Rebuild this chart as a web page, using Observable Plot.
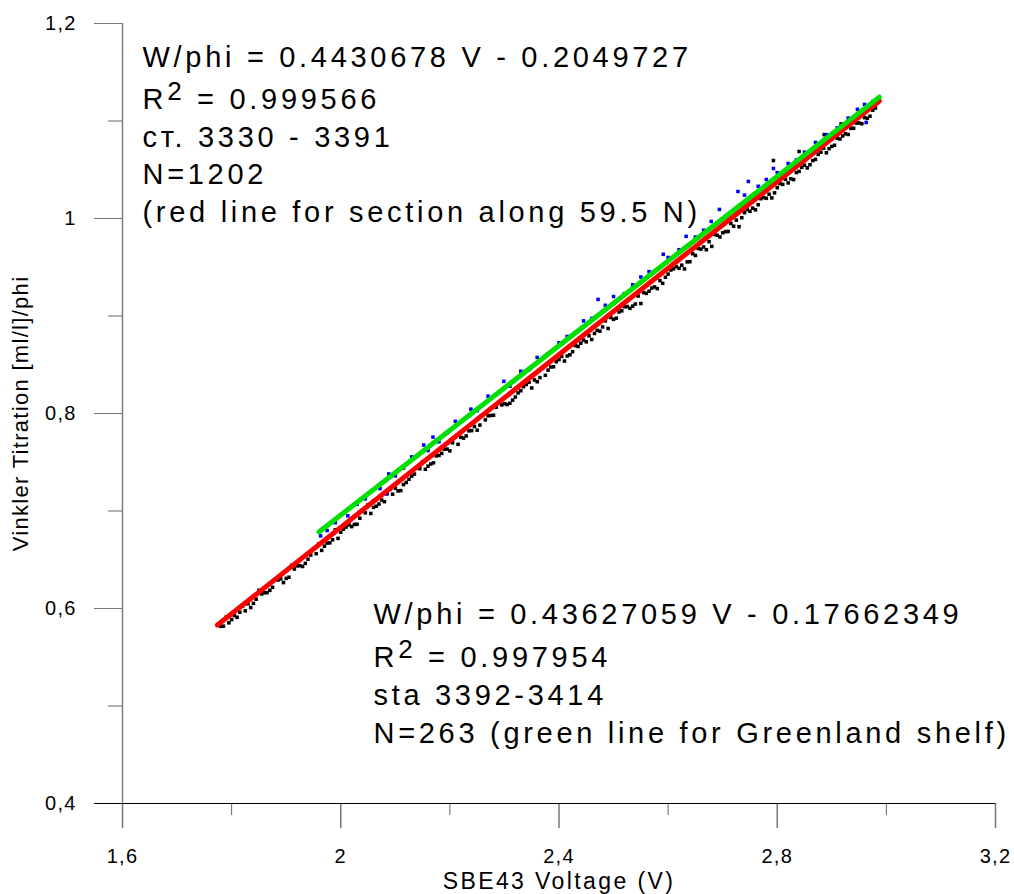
<!DOCTYPE html>
<html>
<head>
<meta charset="utf-8">
<script src="https://cdn.jsdelivr.net/npm/d3@7"></script>
<script src="https://cdn.jsdelivr.net/npm/@observablehq/plot@0.6"></script>
<style>
  body { margin: 0; background: #fff; }
</style>
</head>
<body>
<div id="chart"></div>
<script>
// ---- data ----
const blackV = [
  1.78,1.80,1.82,1.84,1.86,1.88,1.90,1.92,1.94,1.96,1.98,2.00,2.02,2.04,2.06,2.08,2.10,2.12,2.14,2.16,
  2.18,2.20,2.22,2.24,2.26,2.28,2.30,2.32,2.34,2.36,2.38,2.40,2.42,2.44,2.46,2.48,2.50,2.52,2.54,2.56,
  2.58,2.60,2.62,2.64,2.66,2.68,2.70,2.72,2.74,2.76,2.78,2.80,2.82,2.84,2.86,2.88,2.90,2.92,2.94,2.96,2.98,
  1.79,1.81,1.83,1.85,1.87,1.89,1.91,1.93,1.95,1.97,1.99,2.01,2.03,2.05,2.07,2.09,2.11,2.13,2.15,2.17,
  2.19,2.21,2.23,2.25,2.27,2.29,2.31,2.33,2.35,2.37,2.39,2.41,2.43,2.45,2.47,2.49,2.51,2.53,2.55,2.57,
  2.59,2.61,2.63,2.65,2.67,2.69,2.71,2.73,2.75,2.77,2.79,2.81,2.83,2.85,2.87,2.89,2.91,2.93,2.95,2.97,
  1.785,1.805,1.825,1.845,1.865,1.885,1.905,1.925,1.945,1.965,1.985,2.005,2.025,2.045,2.065,2.085,2.105,2.125,2.145,2.165,
  2.185,2.205,2.225,2.245,2.265,2.285,2.305,2.325,2.345,2.365,2.385,2.405,2.425,2.445,2.465,2.485,2.505,2.525,2.545,2.565,
  2.585,2.605,2.625,2.645,2.665,2.685,2.705,2.725,2.745,2.765,2.785,2.805,2.825,2.845,2.865,2.885,2.905,2.925,2.945,2.965,
  1.795,1.815,1.835,1.855,1.875,1.895,1.915,1.935,1.955,1.975,1.995,2.015,2.035,2.055,2.075,2.095,2.115,2.135,2.155,2.175,
  2.195,2.215,2.235,2.255,2.275,2.295,2.315,2.335,2.355,2.375,2.395,2.415,2.435,2.455,2.475,2.495,2.515,2.535,2.555,2.575,
  2.595,2.615,2.635,2.655,2.675,2.695,2.715,2.735,2.755,2.775,2.795,2.815,2.835,2.855,2.875,2.895,2.915,2.935,2.955,2.975,
  2.793,2.886,2.917,2.840
];
const blackW = [
  0.5817,0.5886,0.6024,0.6053,0.6161,0.6300,0.6309,0.6437,0.6506,0.6664,0.6673,0.6782,0.6840,0.7009,0.7037,0.7096,0.7234,0.7293,0.7442,0.7460,
  0.7569,0.7617,0.7756,0.7825,0.7983,0.7982,0.8100,0.8169,0.8298,0.8326,0.8445,0.8553,0.8602,0.8721,0.8759,0.8888,0.8966,0.9095,0.9123,0.9232,
  0.9281,0.9430,0.9489,0.9557,0.9686,0.9714,0.9853,0.9921,1.0060,1.0089,1.0207,1.0316,1.0365,1.0483,1.0552,1.0680,1.0739,1.0847,1.0926,1.1035,1.1133,
  0.5911,0.5910,0.6048,0.6187,0.6186,0.6304,0.6443,0.6431,0.6610,0.6639,0.6807,0.6836,0.6864,0.7063,0.7071,0.7220,0.7209,0.7357,0.7506,0.7494,
  0.7633,0.7762,0.7770,0.7829,0.7977,0.8106,0.8105,0.8233,0.8262,0.8470,0.8479,0.8538,0.8696,0.8735,0.8853,0.8872,0.9041,0.9079,0.9128,0.9286,
  0.9335,0.9484,0.9483,0.9621,0.9680,0.9828,0.9867,0.9916,1.0074,1.0203,1.0211,1.0350,1.0399,1.0547,1.0606,1.0674,1.0823,1.0862,1.0980,1.1049,
  0.5819,0.5928,0.5976,0.6095,0.6163,0.6292,0.6321,0.6439,0.6548,0.6596,0.6705,0.6814,0.6862,0.6981,0.7049,0.7178,0.7206,0.7325,0.7434,0.7482,
  0.7591,0.7700,0.7748,0.7867,0.7935,0.8064,0.8092,0.8211,0.8320,0.8368,0.8477,0.8586,0.8634,0.8753,0.8821,0.8950,0.8978,0.9097,0.9205,0.9254,
  0.9363,0.9472,0.9521,0.9639,0.9708,0.9836,0.9865,0.9983,1.0092,1.0141,1.0249,1.0358,1.0407,1.0525,1.0594,1.0722,1.0751,1.0869,1.0978,1.1027,
  0.5853,0.5962,0.6010,0.6149,0.6218,0.6266,0.6405,0.6463,0.6562,0.6671,0.6719,0.6858,0.6926,0.6975,0.7113,0.7172,0.7271,0.7379,0.7428,0.7566,
  0.7635,0.7684,0.7822,0.7881,0.7979,0.8088,0.8137,0.8275,0.8344,0.8392,0.8531,0.8590,0.8688,0.8797,0.8845,0.8984,0.9053,0.9101,0.9240,0.9298,
  0.9397,0.9506,0.9555,0.9693,0.9762,0.9810,0.9949,1.0008,1.0106,1.0215,1.0263,1.0402,1.0471,1.0519,1.0658,1.0716,1.0815,1.0924,1.0972,1.1111,
  1.0595,1.0860,1.0970,1.0687
];
const blueV = [
  1.963,1.975,1.990,2.013,2.030,2.045,2.060,2.072,2.083,2.088,2.100,2.115,2.130,2.152,2.160,2.169,2.180,2.195,2.210,2.2385,
  2.250,2.270,2.285,2.299,2.310,2.330,2.345,2.360,2.380,2.400,2.415,2.430,2.445,2.460,2.4716,2.485,2.500,2.520,2.535,2.550,
  2.565,2.591,2.600,2.620,2.633,2.650,2.665,2.679,2.694,2.705,2.728,2.740,2.747,2.765,2.780,2.793,2.800,2.820,2.835,2.850,
  2.870,2.890,2.910,2.930,2.947,2.960,2.963,2.975
];
const blueW = [
  0.6745,0.6800,0.6880,0.6950,0.7070,0.7125,0.7103,0.7230,0.7175,0.7380,0.7360,0.7440,0.7555,0.7677,0.7620,0.7758,0.7710,0.7800,0.7920,0.8045,
  0.8030,0.8178,0.8195,0.8330,0.8280,0.8434,0.8450,0.8575,0.8610,0.8725,0.8790,0.8830,0.8950,0.8975,0.9170,0.9110,0.9200,0.9230,0.9320,0.9400,
  0.9455,0.9633,0.9600,0.9680,0.9817,0.9810,0.9880,0.9970,1.0093,1.0020,1.0277,1.0240,1.0380,1.0330,1.0400,1.0513,1.0470,1.0564,1.0600,1.0680,
  1.0780,1.0860,1.0930,1.1030,1.1120,1.1170,1.0985,1.1200
];
// fitted lines (end points)
const redLineV = [1.774, 2.987];
const redLineW = [0.5830, 1.1205];
const greenLineV = [1.960, 2.987];
const greenLineW = [0.6785, 1.1245];

const xMajorTicks = [1.6, 2.0, 2.4, 2.8, 3.2];
const xMinorTicks = [1.8, 2.2, 2.6, 3.0];
const yMajorTicks = [0.4, 0.6, 0.8, 1.0, 1.2];
const yMinorTicks = [0.5, 0.7, 0.9, 1.1];

const xTitle = "SBE43 Voltage (V)";
const yTitle = "Vinkler Titration [ml/l]/phi";
const noteRed = [
  "W/phi = 0.4430678 V - 0.2049727",
  "R2 = 0.999566",
  "ст. 3330 - 3391",
  "N=1202",
  "(red line for section along 59.5 N)"
];
const noteGreen = [
  "W/phi = 0.43627059 V - 0.17662349",
  "R2 = 0.997954",
  "sta 3392-3414",
  "N=263 (green line for Greenland shelf)"
];

// ---- build ----
const blackPts = blackV.map((v, i) => ({v, w: blackW[i]}));
const bluePts = blueV.map((v, i) => ({v, w: blueW[i]}));
const redPts = redLineV.map((v, i) => ({v, w: redLineW[i]}));
const greenPts = greenLineV.map((v, i) => ({v, w: greenLineW[i]}));
const fmt = d => String(+d.toFixed(2)).replace(".", ",");

const M = {left: 122, right: 19, top: 23, bottom: 91};
const redBase = [66, 108, 146, 183, 221];
const greenBase = [623, 666, 704, 742];

const noteMarks = [
  ...noteRed.map((s, i) => Plot.text([s], {
    frameAnchor: "top-left", dx: 20, dy: redBase[i] - M.top,
    lineAnchor: "bottom", textAnchor: "start", fontSize: 29, fill: "#000"
  })),
  ...noteGreen.map((s, i) => Plot.text([s], {
    frameAnchor: "top-left", dx: 251, dy: greenBase[i] - M.top,
    lineAnchor: "bottom", textAnchor: "start", fontSize: 29, fill: "#000"
  }))
];

const chart = Plot.plot({
  width: 1014,
  height: 894,
  marginLeft: M.left,
  marginRight: M.right,
  marginTop: M.top,
  marginBottom: M.bottom,
  x: {domain: [1.6, 3.2]},
  y: {domain: [0.4, 1.2]},
  style: {fontFamily: "'Liberation Sans', Arial, sans-serif", fontSize: "20px", background: "#fff", color: "#000"},
  marks: [
    Plot.ruleX([1.6], {y1: 0.4, y2: 1.2, stroke: "#808080", strokeWidth: 1.5}),
    Plot.axisY(yMinorTicks, {tickSize: 14, fill: "none", stroke: "#666"}),
    Plot.axisY(yMajorTicks, {tickSize: 28, tickPadding: 18, tickFormat: fmt, stroke: "#777", fill: "#000", label: null}),
    Plot.axisX(xMinorTicks, {tickSize: 12, fill: "none", stroke: "#666"}),
    Plot.axisX(xMajorTicks, {tickSize: 25, tickPadding: 20, tickFormat: fmt, stroke: "#777", strokeWidth: 1.5, fill: "#000", label: null}),
    Plot.axisY([0.4], {tickSize: 28, fill: "none", stroke: "#000"}),
    Plot.ruleY([0.4], {x1: 1.6, x2: 3.2, stroke: "#000", strokeWidth: 1.2}),
    Plot.dot(blackPts, {x: "v", y: "w", symbol: "square", r: 2, fill: "#000", stroke: "none"}),
    Plot.dot(bluePts, {x: "v", y: "w", symbol: "square", r: 2, fill: "#0000ff", stroke: "none"}),
    Plot.line(redPts, {x: "v", y: "w", stroke: "#ff0000", strokeWidth: 5, strokeLinecap: "round"}),
    Plot.line(greenPts, {x: "v", y: "w", stroke: "#00e000", strokeWidth: 5, strokeLinecap: "round"}),
    Plot.text([xTitle], {frameAnchor: "bottom", dy: 85, lineAnchor: "bottom", textAnchor: "middle", fontSize: 23, fill: "#000"}),
    Plot.text([yTitle], {frameAnchor: "left", dx: -102, rotate: -90, lineAnchor: "middle", textAnchor: "middle", fontSize: 22, fill: "#000"}),
    ...noteMarks
  ]
});

// text styling: letter spacing and the superscript "2" of R2
const NS = "http://www.w3.org/2000/svg";
const notes = new Set([...noteRed, ...noteGreen]);
chart.querySelectorAll("text").forEach(t => {
  const s = t.textContent;
  if (notes.has(s)) {
    t.style.letterSpacing = "3.7px";
    if (/^R2 = /.test(s)) {
      t.textContent = "";
      const a = document.createElementNS(NS, "tspan"); a.textContent = "R";
      const b = document.createElementNS(NS, "tspan"); b.textContent = "2";
      b.setAttribute("dy", "-9"); b.setAttribute("font-size", "26");
      const c = document.createElementNS(NS, "tspan"); c.textContent = s.slice(2);
      c.setAttribute("dy", "9");
      t.append(a, b, c);
    }
  } else if (s === xTitle) {
    t.style.letterSpacing = "2.4px";
  } else if (s === yTitle) {
    t.style.letterSpacing = "1.3px";
  }
});
chart.querySelectorAll('g[aria-label="x-axis tick label"] text, g[aria-label="y-axis tick label"] text')
  .forEach(t => { t.style.letterSpacing = "1.2px"; });

document.getElementById("chart").appendChild(chart);
</script>
</body>
</html>
